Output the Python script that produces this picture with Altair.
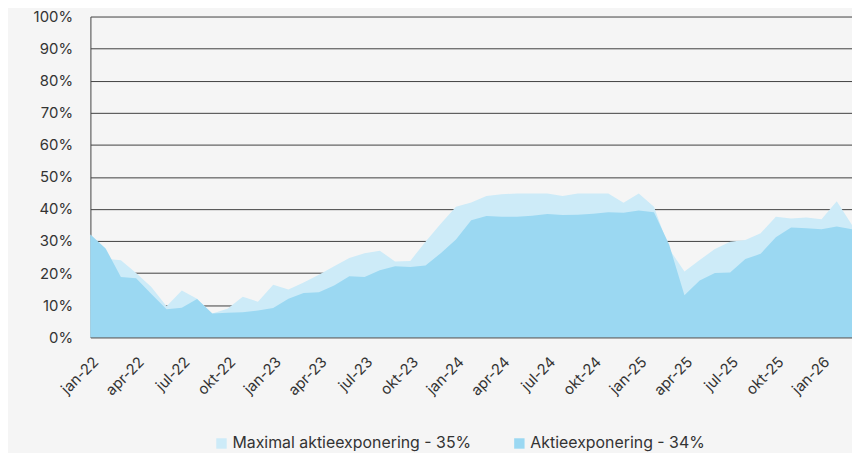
import altair as alt
import pandas as pd

month_names = ["jan", "feb", "mar", "apr", "maj", "jun", "jul", "aug", "sep", "okt", "nov", "dec"]
months = [f"{m}-{y}" for y in ["22", "23", "24", "25"] for m in month_names] + ["jan-26", "feb-26", "mar-26"]
tick_labels = [m for m in months if m.split("-")[0] in ("jan", "apr", "jul", "okt")]

maksimal = [32.0, 24.5, 24.0, 20.0, 15.7, 9.7, 14.6, 12.0, 7.4, 8.9, 12.6, 11.1,
            16.4, 14.9, 17.1, 19.5, 22.1, 24.7, 26.2, 27.0, 23.6, 23.8, 29.8, 35.4,
            40.7, 42.0, 44.0, 44.6, 44.8, 44.8, 44.8, 44.0, 44.8, 44.8, 44.8, 41.9,
            44.8, 40.7, 27.5, 20.5, 24.1, 27.5, 29.8, 30.3, 32.4, 37.6, 37.0, 37.3,
            36.8, 42.4, 35.0]
aktie = [32.0, 27.7, 18.8, 18.4, 13.5, 8.7, 9.2, 11.9, 7.4, 7.6, 7.8, 8.3,
         9.1, 12.0, 13.8, 14.0, 16.1, 19.0, 18.8, 20.9, 22.1, 21.9, 22.4, 26.2,
         30.5, 36.5, 37.8, 37.6, 37.6, 37.9, 38.4, 38.1, 38.2, 38.5, 39.0, 38.8,
         39.5, 39.0, 28.8, 13.1, 17.7, 20.0, 20.2, 24.4, 26.0, 31.2, 34.2, 34.0,
         33.7, 34.5, 33.7]

series_names = ["Maximal aktieexponering - 35%", "Aktieexponering - 34%"]
colors = ["#CDEBF8", "#9BD8F2"]

df = pd.DataFrame({
    "month": months * 2,
    "value": maksimal + aktie,
    "series": [series_names[0]] * len(months) + [series_names[1]] * len(months),
})

FONT = "Inter"

x_axis = alt.Axis(values=tick_labels, labelAngle=-45, ticks=False, labelPadding=17,
                  labelFontSize=15, labelColor="#333333", labelFont=FONT,
                  domainColor="#444444", grid=False)
y_axis = alt.Axis(values=list(range(0, 101, 10)), labelExpr="datum.value + '%'",
                  ticks=False, labelPadding=18, labelFontSize=15, labelColor="#333333",
                  labelFont=FONT, grid=True, gridColor="#3f3f3f", gridWidth=1,
                  domainColor="#444444")

x = alt.X("month:O", sort=months, title=None,
          scale=alt.Scale(type="point", padding=0), axis=x_axis)
y = alt.Y("value:Q", title=None, stack=None,
          scale=alt.Scale(domain=[0, 100], nice=False), axis=y_axis)
color = alt.Color("series:N", title=None,
                  scale=alt.Scale(domain=series_names, range=colors),
                  legend=alt.Legend(orient="none", direction="horizontal", legendX=124, legendY=422,
                                    symbolType="square", symbolSize=110, symbolStrokeWidth=0,
                                    symbolOpacity=1, labelFontSize=16, labelFont=FONT,
                                    labelColor="#333333", labelLimit=400, columnPadding=40,
                                    labelOffset=3))

base = alt.Chart(df)
light = base.transform_filter(alt.datum.series == series_names[0]).mark_area(opacity=1).encode(
    x=x, y=y, color=color)
dark = base.transform_filter(alt.datum.series == series_names[1]).mark_area(opacity=1).encode(
    x=x, y=y, color=color)

chart = alt.layer(light, dark).properties(
    width=767, height=323,
    autosize=alt.AutoSizeParams(type="none"),
    padding={"left": 83, "top": 7, "right": 0, "bottom": 115},
    background="#F5F5F5",
).configure_view(stroke=None)

chart.save("out.html", embed_options={"renderer": "svg", "actions": False})
